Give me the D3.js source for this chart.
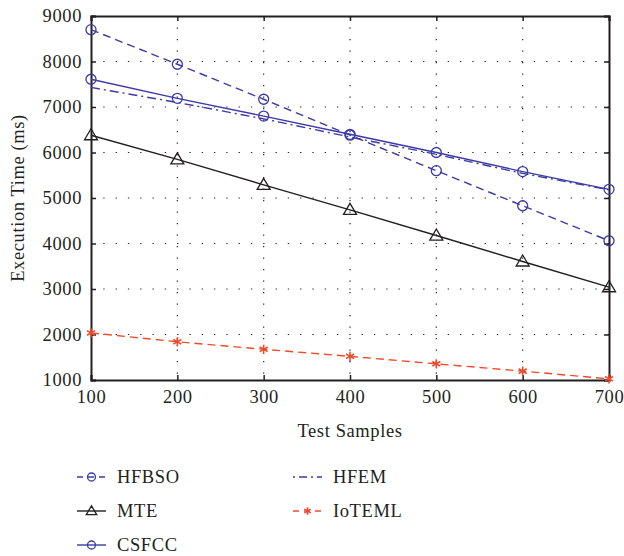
<!DOCTYPE html>
<html>
<head>
<meta charset="utf-8">
<script src="https://cdn.jsdelivr.net/npm/d3@7"></script>
<style>
  body { margin: 0; background: #fff; }
  svg text { font-family: "Liberation Serif", "DejaVu Serif", serif; fill: #231f20; letter-spacing: 0.6px; }
</style>
</head>
<body>
<div id="wrapper"></div>
<script>
const samples = [100, 200, 300, 400, 500, 600, 700];
const hfbso = [8700, 7940, 7170, 6380, 5600, 4830, 4060];
const csfcc = [7610, 7190, 6800, 6400, 6000, 5580, 5190];
const hfem = [7430, 7100, 6740, 6340, 5960, 5540, 5180];
const mte = [6380, 5850, 5290, 4740, 4175, 3605, 3040];
const ioteml = [2035, 1840, 1675, 1520, 1355, 1195, 1025];
const yTicks = [1000, 2000, 3000, 4000, 5000, 6000, 7000, 8000, 9000];

const blue = "#3b3aa6";
const red = "#f04a2c";
const black = "#231f20";

const series = [
  { name: "HFBSO", values: hfbso, color: blue, dash: "8,5", marker: "circle" },
  { name: "MTE", values: mte, color: black, dash: null, marker: "triangle" },
  { name: "CSFCC", values: csfcc, color: blue, dash: null, marker: "circle" },
  { name: "HFEM", values: hfem, color: blue, dash: "9,4,2,4", marker: null },
  { name: "IoTEML", values: ioteml, color: red, dash: "8,5", marker: "star" },
];

const dimensions = {
  width: 624,
  height: 556,
  margin: { top: 16, left: 91, right: 15, bottom: 176 },
};
dimensions.boundedWidth = dimensions.width - dimensions.margin.left - dimensions.margin.right;
dimensions.boundedHeight = dimensions.height - dimensions.margin.top - dimensions.margin.bottom;

const wrapper = d3.select("#wrapper").append("svg")
  .attr("width", dimensions.width)
  .attr("height", dimensions.height);

const bounds = wrapper.append("g")
  .attr("transform", `translate(${dimensions.margin.left},${dimensions.margin.top})`);

const xScale = d3.scaleLinear().domain([100, 700]).range([0, dimensions.boundedWidth]);
const yScale = d3.scaleLinear().domain([1000, 9000]).range([dimensions.boundedHeight, 0]);

// dotted grid
bounds.append("g").selectAll("line").data(samples.slice(1, -1)).join("line")
  .attr("x1", (d) => xScale(d)).attr("x2", (d) => xScale(d))
  .attr("y1", 0).attr("y2", dimensions.boundedHeight)
  .attr("stroke", black).attr("stroke-width", 1.2).attr("stroke-dasharray", "1.3,10.2");
bounds.append("g").selectAll("line").data(yTicks.slice(1, -1)).join("line")
  .attr("y1", (d) => yScale(d)).attr("y2", (d) => yScale(d))
  .attr("x1", 0).attr("x2", dimensions.boundedWidth)
  .attr("stroke", black).attr("stroke-width", 1.2).attr("stroke-dasharray", "1.3,11");

// axes
const xAxis = bounds.append("g")
  .attr("transform", `translate(0,${dimensions.boundedHeight})`)
  .call(d3.axisBottom(xScale).tickValues(samples).tickSize(-5).tickPadding(10).tickFormat(d3.format("d")));
const xTop = bounds.append("g")
  .call(d3.axisTop(xScale).tickValues(samples).tickSize(-5).tickFormat(""));
const yAxis = bounds.append("g")
  .call(d3.axisLeft(yScale).tickValues(yTicks).tickSize(-5).tickPadding(9).tickFormat(d3.format("d")));
const yRight = bounds.append("g")
  .attr("transform", `translate(${dimensions.boundedWidth},0)`)
  .call(d3.axisRight(yScale).tickValues(yTicks).tickSize(-5).tickFormat(""));

[xAxis, xTop, yAxis, yRight].forEach((ax) => {
  ax.select(".domain").attr("stroke", black).attr("stroke-width", 2);
  ax.selectAll(".tick line").attr("stroke", black).attr("stroke-width", 1.5);
  ax.selectAll("text").style("font-size", "18.5px").attr("fill", black);
});

bounds.append("text")
  .attr("transform", `translate(-67,${dimensions.boundedHeight / 2}) rotate(-90)`)
  .attr("text-anchor", "middle")
  .style("font-size", "18.5px")
  .text("Execution Time (ms)");

bounds.append("text")
  .attr("x", dimensions.boundedWidth / 2)
  .attr("y", dimensions.boundedHeight + 57)
  .attr("text-anchor", "middle")
  .style("font-size", "18.5px")
  .text("Test Samples");

const lineGenerator = (values) => d3.line()
  .x((d, i) => xScale(samples[i]))
  .y((d) => yScale(d))(values);

const star = d3.symbol().type(d3.symbolAsterisk);

function drawMarker(g, type, color, x, y, scale) {
  if (type === "circle") {
    g.append("circle").attr("cx", x).attr("cy", y).attr("r", 5 * scale)
      .attr("fill", "none").attr("stroke", color).attr("stroke-width", 1.3);
  } else if (type === "triangle") {
    const s = 6.5 * scale;
    g.append("path")
      .attr("d", `M${x},${y - s}L${x + s},${y + s * 0.7}L${x - s},${y + s * 0.7}Z`)
      .attr("fill", "none").attr("stroke", color).attr("stroke-width", 1.3);
  } else if (type === "star") {
    g.append("path").attr("d", star.size(60 * scale * scale)())
      .attr("transform", `translate(${x},${y})`)
      .attr("fill", "none").attr("stroke", color).attr("stroke-width", 1.6);
  }
}

series.forEach((s) => {
  const g = bounds.append("g");
  g.append("path")
    .attr("d", lineGenerator(s.values))
    .attr("fill", "none")
    .attr("stroke", s.color)
    .attr("stroke-width", 1.4)
    .attr("stroke-dasharray", s.dash);
  if (s.marker) {
    s.values.forEach((v, i) => drawMarker(g, s.marker, s.color, xScale(samples[i]), yScale(v), 1));
  }
});

// legend
const legendOrder = ["HFBSO", "HFEM", "MTE", "IoTEML", "CSFCC"];
const legend = wrapper.append("g");
legendOrder.forEach((name, i) => {
  const s = series.find((d) => d.name === name);
  const col = i % 2;
  const row = Math.floor(i / 2);
  const x0 = col === 0 ? 77 : 293;
  const y0 = 477 + row * 34;
  const g = legend.append("g");
  g.append("line")
    .attr("x1", x0).attr("x2", x0 + 29)
    .attr("y1", y0).attr("y2", y0)
    .attr("stroke", s.color).attr("stroke-width", 1.4)
    .attr("stroke-dasharray", s.dash ? (s.name === "HFEM" ? "2,4,8,4" : "6,5") : null);
  if (s.marker) drawMarker(g, s.marker, s.color, x0 + 14.5, y0, 0.8);
  g.append("text")
    .attr("x", x0 + 40).attr("y", y0 + 6)
    .style("font-size", "18.5px")
    .text(s.name);
});
</script>
</body>
</html>
